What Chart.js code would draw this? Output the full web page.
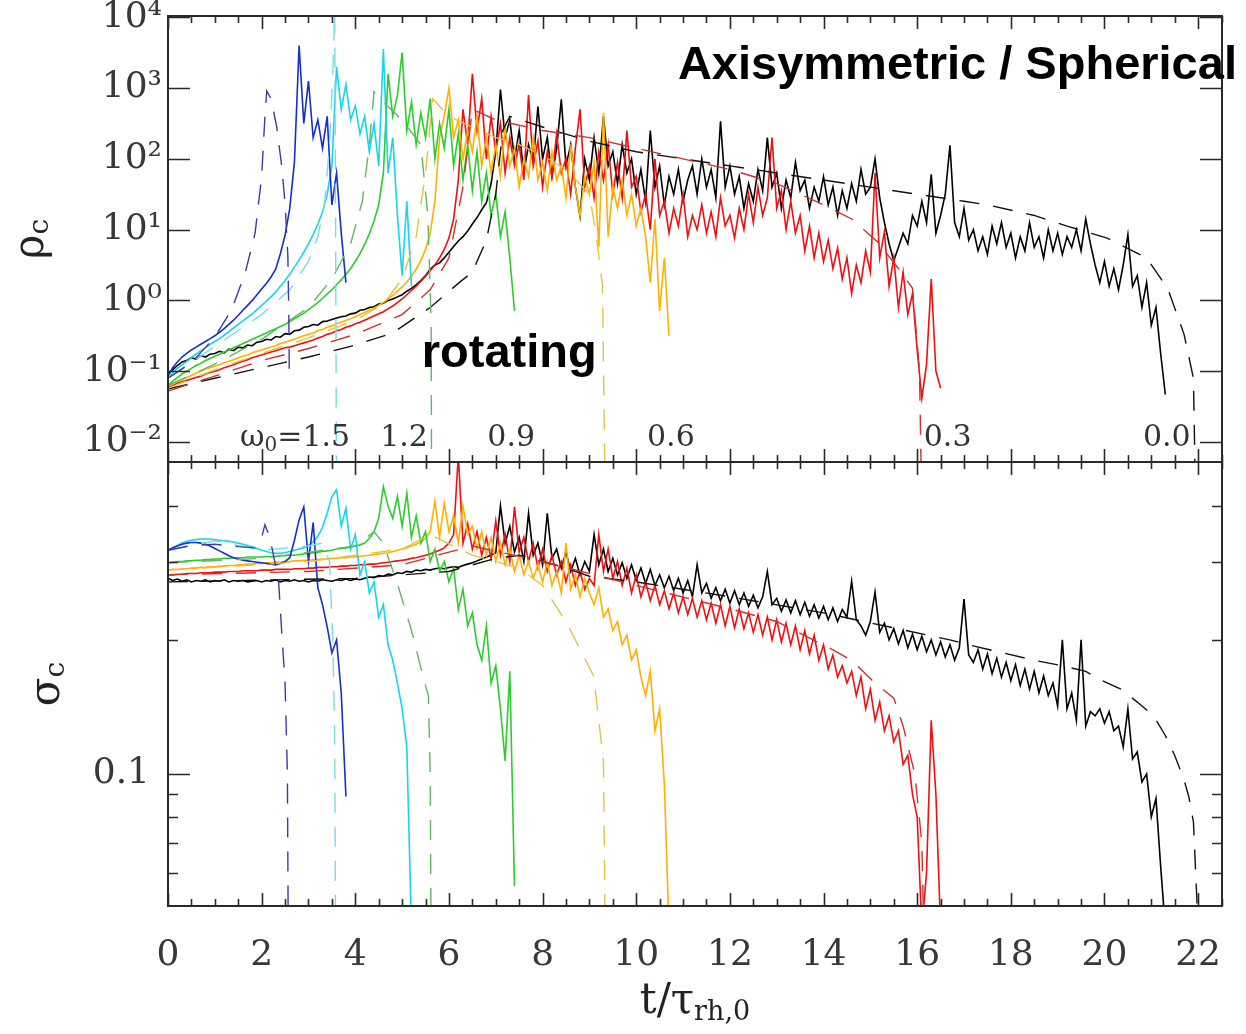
<!DOCTYPE html>
<html>
<head>
<meta charset="utf-8">
<script src="https://cdn.jsdelivr.net/npm/chart.js@4.4.1/dist/chart.umd.min.js"></script>
<style>
  html, body { margin: 0; padding: 0; background: #fff; overflow: hidden; }
  #wrap { position: relative; width: 1246px; height: 1034px; }
  #wrap canvas { position: absolute; left: 0; top: 0; }
</style>
</head>
<body>
<div id="wrap">
  <canvas id="rhoChart" width="1246" height="1034"></canvas>
  <canvas id="sigmaChart" width="1246" height="1034"></canvas>
</div>
<script>
// Central density and central velocity dispersion vs time for rotating models.
// N-body runs (solid) are sampled every dt in t/τrh,0; Fokker-Planck runs (dashed) at listed times.

const dt = 0.1;
const tMax = 22.51;

const rhoMin = 0.00521, rhoMax = 10420;
const sigmaMin = 0.0505, sigmaMax = 0.502;

const tTicks = [0, 2, 4, 6, 8, 10, 12, 14, 16, 18, 20, 22];
const rhoTicks = [0.01, 0.1, 1, 10, 100, 1000, 10000];
const rhoTickText = ['10⁻²', '10⁻¹', '10⁰', '10¹', '10²', '10³', '10⁴'];
const sigmaTicks = [0.1];
const sigmaMinorTicks = [0.06, 0.07, 0.08, 0.09, 0.2, 0.3, 0.4];

const omegaLabels = ['1.5', '1.2', '0.9', '0.6', '0.3', '0.0'];
const nbodyColors = ['#1530c8', '#18d4ec', '#2ccc2c', '#ffb000', '#ee1010', '#000000'];
const fpColors = ['#3c3ca0', '#78dce4', '#62b862', '#e6c240', '#cc3030', '#111111'];

// ---- N-body: log10 ρc, one value per dt ----
const logRhoW15 = [-1.07,-0.95,-0.87,-0.80,-0.75,-0.70,-0.66,-0.62,-0.58,-0.54,
  -0.50,-0.45,-0.40,-0.34,-0.28,-0.21,-0.14,-0.07,0.00,0.08,
  0.16,0.24,0.33,0.44,0.66,0.92,1.30,1.95,3.60,2.50,
  3.10,2.30,2.55,2.15,2.60,1.35,1.80,0.95,0.25];
const logRhoW12 = [-1.10,-1.02,-0.96,-0.91,-0.86,-0.81,-0.76,-0.71,-0.67,-0.62,
  -0.58,-0.54,-0.49,-0.44,-0.39,-0.34,-0.29,-0.24,-0.19,-0.13,
  -0.07,-0.01,0.05,0.12,0.20,0.28,0.37,0.47,0.57,0.68,
  0.80,0.93,1.08,1.25,1.50,1.90,3.30,2.70,3.05,2.55,
  2.75,2.35,2.60,2.10,2.50,1.90,3.55,1.80,2.30,1.20,
  0.35,1.40,0.20];
const logRhoW09 = [-1.20,-1.14,-1.09,-1.04,-1.00,-0.96,-0.92,-0.89,-0.85,-0.82,
  -0.79,-0.76,-0.73,-0.70,-0.67,-0.64,-0.61,-0.58,-0.55,-0.52,
  -0.49,-0.46,-0.43,-0.40,-0.37,-0.34,-0.30,-0.26,-0.22,-0.18,
  -0.13,-0.08,-0.03,0.03,0.09,0.15,0.22,0.29,0.37,0.45,
  0.55,0.66,0.79,0.94,1.12,1.35,1.80,3.20,2.60,2.90,
  3.50,2.40,2.80,2.20,2.65,2.30,2.85,2.00,2.50,2.15,
  2.70,1.90,2.35,1.70,2.20,1.55,2.10,1.40,1.80,1.20,
  1.50,0.90,1.25,0.60,-0.15];
const logRhoW06 = [-1.21,-1.18,-1.15,-1.12,-1.09,-1.06,-1.03,-1.00,-0.97,-0.95,
  -0.93,-0.91,-0.88,-0.86,-0.84,-0.81,-0.79,-0.77,-0.74,-0.72,
  -0.70,-0.68,-0.66,-0.64,-0.61,-0.59,-0.57,-0.55,-0.52,-0.50,
  -0.48,-0.46,-0.43,-0.41,-0.38,-0.36,-0.33,-0.31,-0.28,-0.26,
  -0.23,-0.20,-0.17,-0.14,-0.11,-0.07,-0.03,0.02,0.07,0.13,
  0.19,0.26,0.34,0.44,0.56,0.72,0.95,1.40,2.30,2.60,
  3.00,2.30,2.55,2.00,2.40,2.10,2.60,1.90,2.30,1.80,
  2.20,1.75,2.45,1.90,2.15,1.60,2.00,1.75,2.30,1.70,
  1.95,1.55,2.10,1.70,1.90,1.45,2.20,1.60,1.20,1.75,
  1.50,1.95,0.75,2.65,0.90,1.60,1.30,1.70,1.20,1.50,
  1.05,1.30,0.90,0.25,1.15,-0.15,0.60,-0.50];
const logRhoW03 = [-1.22,-1.20,-1.17,-1.15,-1.13,-1.11,-1.09,-1.07,-1.04,-1.02,
  -1.00,-0.98,-0.95,-0.93,-0.91,-0.88,-0.86,-0.84,-0.81,-0.79,
  -0.77,-0.75,-0.73,-0.71,-0.69,-0.67,-0.66,-0.64,-0.62,-0.60,
  -0.58,-0.56,-0.53,-0.51,-0.48,-0.46,-0.43,-0.41,-0.38,-0.36,
  -0.33,-0.31,-0.28,-0.25,-0.22,-0.19,-0.16,-0.12,-0.08,-0.03,
  0.02,0.08,0.14,0.20,0.27,0.34,0.42,0.50,0.60,0.72,
  0.88,1.15,1.70,2.70,2.20,3.20,2.40,2.85,2.00,2.60,
  2.10,2.50,1.80,2.30,1.90,2.20,1.70,2.90,1.90,2.25,
  1.60,2.10,1.75,2.35,1.80,2.00,1.50,2.15,2.70,1.60,
  1.90,1.45,2.10,1.70,2.20,1.50,1.95,1.45,2.40,1.60,
  1.75,1.25,1.50,1.00,2.00,1.20,1.40,0.95,1.30,1.05,
  1.50,0.90,1.20,1.00,1.35,0.95,1.25,0.90,1.45,1.05,
  1.20,0.88,1.30,1.00,1.50,1.10,1.60,1.20,1.45,2.30,
  1.30,1.55,1.00,1.40,0.95,1.20,0.70,1.05,0.60,0.95,
  0.55,0.85,0.45,0.74,0.30,0.60,0.10,0.50,0.25,0.70,
  0.40,1.80,0.60,0.97,0.20,0.60,-0.10,0.40,-0.20,0.10,
  -0.70,-1.38,-0.90,0.30,-1.00,-1.24];
const logRhoW00 = [-1.03,-0.98,-0.92,-0.87,-0.85,-0.81,-0.83,-0.78,-0.80,-0.76,
  -0.75,-0.72,-0.74,-0.69,-0.71,-0.66,-0.67,-0.63,-0.64,-0.59,
  -0.58,-0.55,-0.56,-0.51,-0.52,-0.47,-0.48,-0.43,-0.42,-0.38,
  -0.37,-0.34,-0.35,-0.30,-0.29,-0.27,-0.25,-0.23,-0.22,-0.19,
  -0.18,-0.14,-0.13,-0.10,-0.09,-0.05,-0.04,0.00,0.02,0.05,
  0.08,0.13,0.17,0.22,0.28,0.35,0.44,0.50,0.53,0.60,
  0.68,0.76,0.84,0.90,0.98,1.08,1.17,1.28,1.38,1.65,
  2.10,2.98,2.30,2.55,2.00,2.40,1.80,2.20,1.95,2.74,
  2.00,2.30,1.75,2.15,2.84,1.90,2.20,1.60,1.19,2.00,
  1.70,2.30,1.80,2.60,1.90,2.10,1.65,2.20,1.80,2.00,
  1.50,1.85,1.40,2.40,1.60,1.90,1.35,1.75,1.50,1.85,
  1.40,1.70,1.90,1.50,2.00,1.60,1.85,1.45,2.53,1.60,
  1.90,1.50,1.75,1.30,1.65,1.40,1.85,1.55,2.30,1.60,
  1.80,1.30,1.70,1.45,1.95,1.55,1.70,1.30,1.60,1.40,
  1.75,1.35,1.60,1.20,1.55,1.30,1.65,1.40,1.85,1.50,
  1.60,2.00,1.45,1.10,0.80,0.56,0.75,0.95,0.80,1.20,
  1.05,1.40,1.10,1.78,0.95,1.20,1.50,2.19,1.10,0.90,
  1.30,0.85,1.00,0.70,0.90,0.65,1.05,0.80,1.10,0.75,
  0.95,0.60,0.90,0.70,1.10,0.75,0.90,0.60,1.00,0.70,
  0.95,0.65,0.90,0.75,1.00,0.70,1.15,0.80,0.50,0.25,
  0.55,0.20,0.45,0.15,0.50,0.93,0.20,0.35,-0.10,0.25,
  -0.35,-0.10,-0.75,-1.33];

// ---- N-body: σc, one value per dt ----
const sigmaW15 = [0.318,0.322,0.325,0.328,0.330,0.331,0.331,0.330,0.328,0.325,
  0.321,0.317,0.313,0.309,0.306,0.304,0.302,0.301,0.300,0.299,
  0.298,0.297,0.296,0.295,0.297,0.300,0.306,0.335,0.372,0.398,
  0.300,0.367,0.262,0.240,0.214,0.187,0.200,0.152,0.089];
const sigmaW12 = [0.318,0.322,0.326,0.330,0.333,0.335,0.336,0.337,0.337,0.337,
  0.336,0.335,0.334,0.333,0.332,0.330,0.328,0.326,0.324,0.321,
  0.318,0.316,0.314,0.313,0.313,0.314,0.316,0.318,0.320,0.322,
  0.326,0.332,0.342,0.358,0.385,0.420,0.435,0.360,0.395,0.320,
  0.345,0.280,0.300,0.255,0.270,0.225,0.240,0.195,0.180,0.160,
  0.140,0.115,0.045];
const sigmaW09 = [0.298,0.299,0.300,0.300,0.301,0.301,0.302,0.302,0.303,0.303,
  0.304,0.304,0.305,0.305,0.306,0.306,0.306,0.307,0.307,0.307,
  0.307,0.308,0.308,0.308,0.309,0.309,0.310,0.310,0.311,0.312,
  0.313,0.314,0.315,0.316,0.317,0.318,0.320,0.321,0.322,0.323,
  0.325,0.327,0.330,0.338,0.350,0.375,0.442,0.400,0.375,0.420,
  0.360,0.427,0.340,0.380,0.330,0.350,0.300,0.320,0.285,0.300,
  0.270,0.290,0.234,0.260,0.215,0.230,0.195,0.180,0.215,0.160,
  0.175,0.140,0.107,0.170,0.056];
const sigmaW06 = [0.287,0.288,0.288,0.289,0.289,0.290,0.290,0.291,0.291,0.292,
  0.292,0.293,0.293,0.294,0.294,0.295,0.295,0.296,0.296,0.297,
  0.297,0.298,0.298,0.299,0.299,0.300,0.300,0.301,0.301,0.302,
  0.302,0.303,0.303,0.304,0.304,0.305,0.305,0.306,0.306,0.307,
  0.307,0.308,0.309,0.310,0.311,0.312,0.313,0.314,0.316,0.318,
  0.320,0.322,0.325,0.328,0.332,0.338,0.350,0.410,0.340,0.405,
  0.350,0.380,0.330,0.400,0.345,0.360,0.320,0.350,0.310,0.340,
  0.300,0.330,0.295,0.320,0.285,0.310,0.280,0.300,0.275,0.295,
  0.270,0.300,0.265,0.285,0.255,0.330,0.260,0.280,0.250,0.275,
  0.255,0.240,0.262,0.225,0.235,0.210,0.220,0.195,0.205,0.180,
  0.190,0.165,0.150,0.170,0.125,0.140,0.095,0.045];
const sigmaW03 = [0.280,0.280,0.281,0.281,0.282,0.282,0.282,0.283,0.283,0.283,
  0.284,0.284,0.284,0.285,0.285,0.285,0.286,0.286,0.286,0.286,
  0.287,0.287,0.287,0.288,0.288,0.288,0.288,0.289,0.289,0.289,
  0.290,0.290,0.291,0.291,0.291,0.292,0.292,0.293,0.293,0.294,
  0.294,0.295,0.295,0.296,0.296,0.297,0.298,0.299,0.300,0.301,
  0.302,0.303,0.305,0.306,0.308,0.310,0.312,0.315,0.318,0.322,
  0.330,0.345,0.520,0.330,0.365,0.320,0.350,0.310,0.340,0.305,
  0.370,0.310,0.345,0.300,0.398,0.315,0.340,0.300,0.330,0.290,
  0.320,0.285,0.310,0.280,0.300,0.270,0.295,0.265,0.285,0.260,
  0.275,0.265,0.345,0.285,0.320,0.275,0.300,0.265,0.290,0.255,
  0.280,0.250,0.270,0.245,0.265,0.240,0.258,0.235,0.255,0.230,
  0.250,0.228,0.248,0.225,0.245,0.222,0.242,0.218,0.240,0.215,
  0.238,0.213,0.235,0.212,0.230,0.208,0.228,0.205,0.225,0.200,
  0.222,0.198,0.218,0.195,0.215,0.190,0.210,0.186,0.205,0.180,
  0.195,0.172,0.185,0.165,0.175,0.160,0.170,0.150,0.165,0.140,
  0.155,0.132,0.145,0.125,0.135,0.118,0.125,0.105,0.110,0.090,
  0.080,0.045,0.060,0.132,0.090,0.045];
const sigmaW00 = [0.275,0.272,0.274,0.271,0.273,0.270,0.272,0.271,0.273,0.270,
  0.272,0.271,0.273,0.270,0.272,0.271,0.272,0.270,0.271,0.272,
  0.270,0.272,0.271,0.273,0.270,0.272,0.271,0.273,0.271,0.272,
  0.270,0.272,0.271,0.273,0.272,0.271,0.273,0.272,0.274,0.272,
  0.274,0.273,0.275,0.277,0.276,0.279,0.278,0.281,0.280,0.283,
  0.282,0.285,0.284,0.287,0.286,0.288,0.287,0.289,0.290,0.289,
  0.291,0.292,0.291,0.294,0.296,0.298,0.301,0.304,0.307,0.310,
  0.314,0.400,0.330,0.360,0.315,0.340,0.300,0.385,0.310,0.330,
  0.295,0.385,0.305,0.320,0.290,0.315,0.285,0.305,0.280,0.300,
  0.285,0.345,0.295,0.320,0.285,0.305,0.280,0.298,0.275,0.295,
  0.272,0.290,0.268,0.288,0.265,0.280,0.262,0.278,0.258,0.275,
  0.255,0.272,0.250,0.295,0.255,0.268,0.248,0.262,0.245,0.260,
  0.242,0.258,0.240,0.255,0.238,0.252,0.236,0.250,0.285,0.240,
  0.248,0.232,0.246,0.230,0.245,0.228,0.243,0.226,0.240,0.224,
  0.238,0.222,0.236,0.220,0.234,0.225,0.271,0.222,0.215,0.205,
  0.220,0.256,0.208,0.218,0.200,0.212,0.196,0.210,0.192,0.206,
  0.190,0.204,0.188,0.200,0.185,0.198,0.183,0.195,0.180,0.192,
  0.247,0.185,0.178,0.190,0.172,0.186,0.168,0.182,0.165,0.178,
  0.162,0.176,0.158,0.172,0.155,0.170,0.152,0.166,0.150,0.160,
  0.142,0.200,0.140,0.152,0.132,0.200,0.128,0.138,0.135,0.140,
  0.130,0.138,0.125,0.128,0.115,0.140,0.108,0.112,0.096,0.100,
  0.080,0.088,0.062,0.045];

// ---- Fokker-Planck runs ----
const fpRhoTimeW15 = [0,0.5,1.0,1.36,1.65,1.86,2.0,2.07,2.11,2.2,2.32,2.43,2.5,2.56,2.58,2.59];
const fpLogRhoW15  = [-1.1,-0.88,-0.52,-0.13,0.39,0.95,1.75,2.6,2.96,2.85,2.46,1.89,1.37,0.62,-0.2,-1.0];
const fpRhoTimeW12 = [0,1,2,2.6,3.0,3.2,3.35,3.45,3.52,3.56,3.58,3.6];
const fpLogRhoW12  = [-1.1,-0.65,-0.2,0.15,0.55,0.9,1.4,2.2,3.2,4.1,1.0,-3];
const fpRhoTimeW09 = [0,1,2,3,3.5,3.9,4.15,4.3,4.4,4.6,5.0,5.4,5.55,5.62,5.63];
const fpLogRhoW09  = [-1.2,-0.9,-0.55,-0.1,0.3,0.8,1.4,2.2,2.95,2.8,2.55,2.2,1.2,-0.3,-3];
const fpRhoTimeW06 = [0,1,2,3,4,4.6,5.0,5.3,5.5,5.65,6.0,6.5,7.0,7.5,8.0,8.5,9.0,9.15,9.28,9.34];
const fpLogRhoW06  = [-1.24,-0.98,-0.75,-0.53,-0.28,-0.05,0.3,0.9,1.8,2.85,2.6,2.45,2.3,2.2,2.05,1.85,1.5,0.9,0.2,-3];
const fpRhoTimeW03 = [0,1,2,3,4,5,5.6,6.0,6.3,6.5,7,8,9,10,11,12,13,14,14.6,15.15,15.6,15.9,16.05,16.1];
const fpLogRhoW03  = [-1.28,-1.07,-0.85,-0.68,-0.48,-0.2,0.15,0.6,1.6,2.7,2.55,2.4,2.3,2.15,2.0,1.85,1.65,1.35,1.15,0.83,0.45,0.17,-1.0,-3];
const fpRhoTimeW00 = [0,1,2,3,3.9,4.8,5.6,6.2,6.5,6.8,7.0,7.15,7.3,8,9,10,11,12,13,14,15,16,17,17.5,18.5,19.2,20.06,20.9,21.35,21.7,21.9,21.95];
const fpLogRhoW00  = [-1.25,-1.1,-0.95,-0.8,-0.65,-0.46,-0.1,0.24,0.4,0.85,1.5,2.4,2.6,2.45,2.25,2.1,2.0,1.9,1.8,1.7,1.6,1.5,1.4,1.35,1.2,1.05,0.88,0.6,0.17,-0.48,-1.1,-3];

const fpSigTimeW15 = [0,0.5,1.0,1.5,1.86,2.0,2.07,2.15,2.22,2.36,2.43,2.5,2.55,2.57];
const fpSigmaW15   = [0.318,0.326,0.328,0.324,0.322,0.34,0.363,0.345,0.322,0.273,0.207,0.16,0.1,0.04];
const fpSigTimeW12 = [0,1,2,3,3.3,3.45,3.52,3.56,3.58];
const fpSigmaW12   = [0.318,0.334,0.318,0.325,0.33,0.3,0.2,0.12,0.04];
const fpSigTimeW09 = [0,2,4,4.4,4.6,4.92,5.2,5.45,5.56,5.6,5.62];
const fpSigmaW09   = [0.298,0.305,0.325,0.35,0.33,0.263,0.21,0.165,0.15,0.1,0.04];
const fpSigTimeW06 = [0,3,5,5.6,6.5,7.5,8.0,8.52,9.09,9.3,9.34];
const fpSigmaW06   = [0.287,0.3,0.32,0.345,0.31,0.29,0.265,0.218,0.166,0.107,0.04];
const fpSigTimeW03 = [0,3,5,6,6.5,8,10,12,13,14.2,14.6,15.1,15.5,15.7,15.95,16.1,16.15];
const fpSigmaW03   = [0.28,0.285,0.295,0.315,0.325,0.3,0.265,0.235,0.22,0.19,0.18,0.16,0.148,0.128,0.1,0.07,0.04];
const fpSigTimeW00 = [0,4,6,7,7.5,8,8.5,9,10,12,14,16.7,17.1,18.5,19.1,19.6,19.9,20.35,20.7,21.05,21.3,21.5,21.7,21.8,21.9,22.0];
const fpSigmaW00   = [0.27,0.275,0.285,0.305,0.31,0.3,0.29,0.278,0.27,0.25,0.23,0.2,0.195,0.18,0.175,0.17,0.163,0.155,0.145,0.135,0.122,0.11,0.097,0.089,0.078,0.045];

const nbodyLogRho = [logRhoW15, logRhoW12, logRhoW09, logRhoW06, logRhoW03, logRhoW00];
const nbodySigma = [sigmaW15, sigmaW12, sigmaW09, sigmaW06, sigmaW03, sigmaW00];
const fpRho = [[fpRhoTimeW15, fpLogRhoW15], [fpRhoTimeW12, fpLogRhoW12], [fpRhoTimeW09, fpLogRhoW09],
               [fpRhoTimeW06, fpLogRhoW06], [fpRhoTimeW03, fpLogRhoW03], [fpRhoTimeW00, fpLogRhoW00]];
const fpSig = [[fpSigTimeW15, fpSigmaW15], [fpSigTimeW12, fpSigmaW12], [fpSigTimeW09, fpSigmaW09],
               [fpSigTimeW06, fpSigmaW06], [fpSigTimeW03, fpSigmaW03], [fpSigTimeW00, fpSigmaW00]];

const fromLog = v => Math.pow(10, v);
const asIs = v => v;

function gridPoints(values, toY) {
  return values.map((v, i) => ({ x: +(i * dt).toFixed(1), y: toY(v) }));
}
function timedPoints(times, values, toY) {
  return times.map((t, i) => ({ x: t, y: toY(values[i]) }));
}

// dashed runs first so they sit on top of the noisy N-body curves
function buildDatasets(fp, nbody, toY) {
  const sets = [];
  fp.forEach(([ts, vs], i) => sets.push({
    data: timedPoints(ts, vs, toY), borderColor: fpColors[i],
    borderWidth: 1.4, borderDash: [20, 14]
  }));
  nbody.forEach((vs, i) => sets.push({
    data: gridPoints(vs, toY), borderColor: nbodyColors[i], borderWidth: 1.6
  }));
  return sets;
}

const tickFont = { family: '"DejaVu Serif", serif', size: 36 };
const tickColor = '#383838';
const serif = '"DejaVu Serif", serif';

// draws a row of text pieces; each piece is [text, size, dy]
function drawRuns(ctx, runs, x, y, align) {
  let w = 0;
  runs.forEach(([t, s]) => { ctx.font = s + 'px ' + serif; w += ctx.measureText(t).width; });
  let cx = align === 'center' ? x - w / 2 : x;
  runs.forEach(([t, s, dy]) => {
    ctx.font = s + 'px ' + serif;
    ctx.fillText(t, cx, y + dy);
    cx += ctx.measureText(t).width;
  });
}

// box with inward tick marks on all four sides
const panelFrame = {
  id: 'panelFrame',
  afterDatasetsDraw(chart, args, opts) {
    const { ctx, chartArea: a, scales: { x, y } } = chart;
    ctx.save();
    ctx.strokeStyle = '#2a2a2a';
    ctx.lineWidth = 1.6;
    ctx.beginPath();
    for (let t = 0; t <= x.max + 1e-9; t += 0.5) {
      const px = Math.round(x.getPixelForValue(t)) + 0.5;
      const len = tTicks.includes(t) ? 13 : 7;
      ctx.moveTo(px, a.top); ctx.lineTo(px, a.top + len);
      ctx.moveTo(px, a.bottom); ctx.lineTo(px, a.bottom - len);
    }
    const yTick = (v, len) => {
      const py = Math.round(y.getPixelForValue(v)) + 0.5;
      ctx.moveTo(a.left, py); ctx.lineTo(a.left + len, py);
      ctx.moveTo(a.right, py); ctx.lineTo(a.right - len, py);
    };
    opts.yMajor.forEach(v => yTick(v, 22));
    opts.yMinor.forEach(v => yTick(v, 10));
    ctx.stroke();
    ctx.lineWidth = 2;
    ctx.strokeRect(a.left, a.top, a.right - a.left, a.bottom - a.top);
    ctx.restore();
  }
};

const rhoNotes = {
  id: 'rhoNotes',
  afterDraw(chart) {
    const { ctx, chartArea: a, scales: { x, y } } = chart;
    ctx.save();
    ctx.fillStyle = '#333';
    ctx.textBaseline = 'middle';
    const ly = y.getPixelForValue(fromLog(-1.94));
    drawRuns(ctx, [['ω', 30, 0], ['0', 20, 8], ['=' + omegaLabels[0], 30, 0]], x.getPixelForValue(1.54), ly, 'left');
    const labelT = [5.04, 7.33, 10.74, 16.65, 21.33];
    omegaLabels.slice(1).forEach((s, i) => drawRuns(ctx, [[s, 30, 0]], x.getPixelForValue(labelT[i]), ly, 'center'));

    // axis title
    ctx.fillStyle = '#222';
    ctx.save();
    ctx.translate(a.left - 136, (a.top + a.bottom) / 2);
    ctx.rotate(-Math.PI / 2);
    drawRuns(ctx, [['ρ', 42, 0], ['c', 28, 9]], 0, 0, 'center');
    ctx.restore();

    ctx.fillStyle = '#000';
    ctx.textBaseline = 'alphabetic';
    ctx.font = 'bold 47px "Liberation Sans", Arial, sans-serif';
    ctx.fillText('Axisymmetric / Spherical', x.getPixelForValue(10.89), y.getPixelForValue(fromLog(3.126)));
    ctx.fillText('rotating', x.getPixelForValue(5.42), y.getPixelForValue(fromLog(-0.934)));
    ctx.restore();
  }
};

const sigmaNotes = {
  id: 'sigmaNotes',
  afterDraw(chart) {
    const { ctx, chartArea: a } = chart;
    ctx.save();
    ctx.fillStyle = '#222';
    ctx.textBaseline = 'middle';
    ctx.save();
    ctx.translate(a.left - 120, (a.top + a.bottom) / 2);
    ctx.rotate(-Math.PI / 2);
    drawRuns(ctx, [['σ', 42, 0], ['c', 28, 9]], 0, 0, 'center');
    ctx.restore();
    drawRuns(ctx, [['t/τ', 42, 0], ['rh,0', 27, 11]], (a.left + a.right) / 2, 1002, 'center');
    ctx.restore();
  }
};

const baseOptions = {
  responsive: false,
  animation: false,
  devicePixelRatio: 1,
  events: [],
  elements: { point: { radius: 0 }, line: { tension: 0 } },
  plugins: { legend: { display: false }, tooltip: { enabled: false } }
};

new Chart(document.getElementById('rhoChart'), {
  type: 'line',
  data: { datasets: buildDatasets(fpRho, nbodyLogRho, fromLog) },
  options: {
    ...baseOptions,
    layout: { padding: { left: 0, right: 24, top: 16, bottom: 572 } },
    plugins: { ...baseOptions.plugins, panelFrame: { yMajor: rhoTicks, yMinor: [] } },
    scales: {
      x: { type: 'linear', min: 0, max: tMax, display: false },
      y: {
        type: 'logarithmic', min: rhoMin, max: rhoMax,
        afterFit(s) { s.width = 168; s.paddingTop = 0; s.paddingBottom = 0; },
        afterBuildTicks(s) { s.ticks = rhoTicks.map(v => ({ value: v })); },
        grid: { display: false, drawTicks: false },
        border: { display: false },
        ticks: { autoSkip: false, padding: 6, font: tickFont, color: tickColor,
                 callback: (v, i) => rhoTickText[i] }
      }
    }
  },
  plugins: [panelFrame, rhoNotes]
});

new Chart(document.getElementById('sigmaChart'), {
  type: 'line',
  data: { datasets: buildDatasets(fpSig, nbodySigma, asIs) },
  options: {
    ...baseOptions,
    layout: { padding: { left: 0, right: 24, top: 462, bottom: 28 } },
    plugins: { ...baseOptions.plugins, panelFrame: { yMajor: sigmaTicks, yMinor: sigmaMinorTicks } },
    scales: {
      x: {
        type: 'linear', min: 0, max: tMax, position: 'bottom',
        afterFit(s) { s.height = 100; s.paddingLeft = 0; s.paddingRight = 0; },
        afterBuildTicks(s) { s.ticks = tTicks.map(v => ({ value: v })); },
        grid: { display: false, drawTicks: false },
        border: { display: false },
        ticks: { autoSkip: false, maxRotation: 0, padding: 28, font: tickFont, color: tickColor,
                 callback: v => String(v) }
      },
      y: {
        type: 'logarithmic', min: sigmaMin, max: sigmaMax,
        afterFit(s) { s.width = 168; s.paddingTop = 0; s.paddingBottom = 0; },
        afterBuildTicks(s) { s.ticks = sigmaTicks.map(v => ({ value: v })); },
        grid: { display: false, drawTicks: false },
        border: { display: false },
        ticks: { autoSkip: false, padding: 18, font: tickFont, color: tickColor,
                 callback: v => String(v) }
      }
    }
  },
  plugins: [panelFrame, sigmaNotes]
});
</script>
</body>
</html>
